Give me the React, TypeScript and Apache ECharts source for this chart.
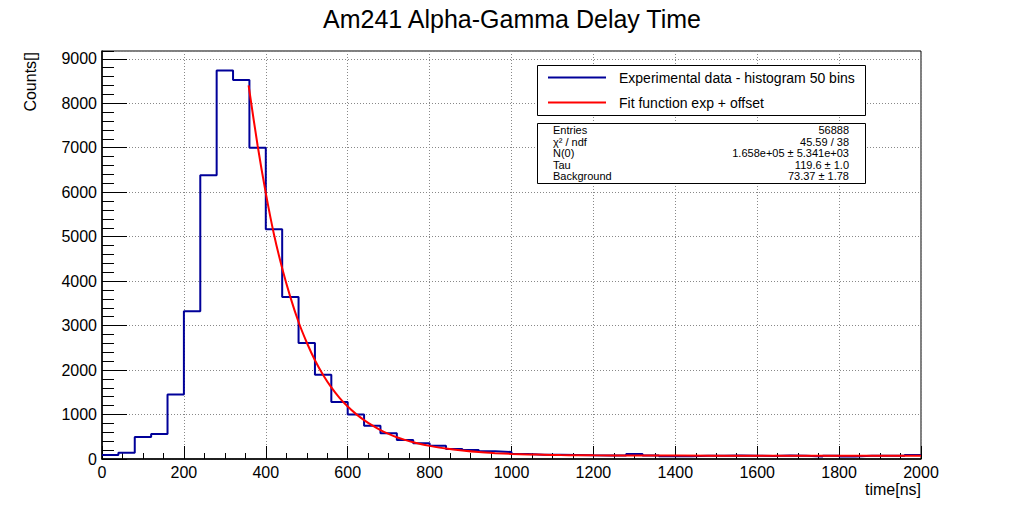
import React, { useEffect, useRef } from "react";
import * as echarts from "echarts";

// ---- data ----
const binLow = [
  0, 40, 80, 120, 160, 200, 240, 280, 320, 360, 400, 440, 480, 520, 560, 600, 640, 680, 720, 760,
  800, 840, 880, 920, 960, 1000, 1040, 1080, 1120, 1160, 1200, 1240, 1280, 1320, 1360, 1400, 1440,
  1480, 1520, 1560, 1600, 1640, 1680, 1720, 1760, 1800, 1840, 1880, 1920, 1960,
];
const binWidth = 40;
const counts = [
  90, 141, 494, 561, 1452, 3322, 6382, 8738, 8523, 6997, 5169, 3643, 2611, 1893, 1279, 1003, 748, 577,
  426, 352, 298, 224, 202, 172, 157, 110, 95, 98, 92, 85, 80, 78, 112, 80, 62, 60, 75, 72, 78, 74, 70,
  76, 73, 58, 74, 58, 72, 75, 72, 88,
];
const fitX = [
  358, 380, 400, 420, 440, 460, 480, 500, 520, 540, 560, 580, 600, 620, 640, 660, 680, 700, 720, 740,
  760, 780, 800, 840, 880, 920, 960, 1000, 1040, 1080, 1120, 1160, 1200, 1300, 1400, 1600, 1800, 2000,
];
const fitY = [
  8400, 7050, 5980, 5050, 4290, 3640, 3080, 2620, 2220, 1890, 1610, 1375, 1180, 1015, 875, 755, 650,
  565, 490, 430, 375, 330, 295, 235, 190, 155, 132, 115, 103, 95, 89, 85, 82, 78, 76, 74, 73.5, 73.4,
];
const statsLabels = ["Entries", "χ² / ndf", "N(0)", "Tau", "Background"];
const statsValues = ["56888", "45.59 / 38", "1.658e+05 ± 5.341e+03", "119.6 ± 1.0", "73.37 ± 1.78"];
const legendNames = ["Experimental data - histogram 50 bins", "Fit function exp + offset"];
const title = "Am241 Alpha-Gamma Delay Time";
const xName = "time[ns]";
const yName = "Counts[]";

const FONT = "'Liberation Sans', Arial, Helvetica, sans-serif";
const BLUE = "#000099";
const RED = "#ff0000";

export default function App() {
  const ref = useRef<HTMLDivElement>(null);
  useEffect(() => {
    document.body.style.margin = "0";
    if (!ref.current) return;
    const chart = echarts.init(ref.current, undefined, { renderer: "svg" });

    const histPts: number[][] = [];
    binLow.forEach((lo, i) => {
      histPts.push([lo, counts[i]]);
      histPts.push([lo + binWidth, counts[i]]);
    });
    const fitPts = fitX.map((x, i) => [x, fitY[i]]);
    const yMax = Math.max(...counts) * 1.05;

    const gridLeft = 102;
    const gridRight = 921;
    const gridTop = 51;
    const gridBottom = 459;

    const statsTop = 124;
    const rowH = 11.6;

    const option: any = {
      animation: false,
      backgroundColor: "#ffffff",
      textStyle: { fontFamily: FONT },
      title: {
        text: title,
        left: "center",
        top: 1,
        textStyle: { fontFamily: FONT, fontSize: 25, fontWeight: "normal", color: "#000" },
      },
      grid: {
        left: gridLeft,
        right: 1024 - gridRight,
        top: gridTop,
        bottom: 510 - gridBottom,
        show: true,
        borderColor: "#000",
        borderWidth: 1,
        backgroundColor: "transparent",
      },
      xAxis: {
        type: "value",
        min: 0,
        max: 2000,
        interval: 200,
        axisLine: { show: true, onZero: false, lineStyle: { color: "#000", width: 1.5 } },
        axisTick: { show: true, inside: true, length: 13, lineStyle: { color: "#000" } },
        minorTick: { show: true, splitNumber: 4, length: 6, lineStyle: { color: "#000" } },
        axisLabel: {
          color: "#000",
          fontSize: 16,
          fontFamily: FONT,
          margin: 5,
          formatter: (v: number) => String(v),
        },
        splitLine: { show: true, lineStyle: { color: "#888", type: [1, 2], width: 1 } },
      },
      yAxis: [
        {
          type: "value",
          min: 0,
          max: yMax,
          interval: 1000,
          axisLine: { show: true, onZero: false, lineStyle: { color: "#000", width: 1.5 } },
          axisTick: { show: true, inside: true, length: 25, lineStyle: { color: "#000" } },
          axisLabel: {
            color: "#000",
            fontSize: 16,
            fontFamily: FONT,
            margin: 5,
            showMaxLabel: false,
            formatter: (v: number) => (v % 1000 === 0 ? String(v) : ""),
          },
          splitLine: { show: true, lineStyle: { color: "#888", type: [1, 2], width: 1 } },
        },
        {
          type: "value",
          min: 0,
          max: yMax,
          interval: 200,
          position: "left",
          axisLine: { show: false },
          axisTick: { show: true, inside: true, length: 12, lineStyle: { color: "#000" } },
          axisLabel: { show: false },
          splitLine: { show: false },
        },
      ],
      series: [
        {
          name: legendNames[0],
          type: "line",
          data: histPts,
          showSymbol: false,
          symbol: "none",
          lineStyle: { color: BLUE, width: 2 },
          itemStyle: { color: BLUE },
          z: 3,
        },
        {
          name: legendNames[1],
          type: "line",
          data: fitPts,
          showSymbol: false,
          symbol: "none",
          smooth: 0.3,
          lineStyle: { color: RED, width: 2 },
          itemStyle: { color: RED },
          z: 4,
        },
      ],
      graphic: [
        {
          type: "text",
          x: 30,
          y: 52,
          rotation: Math.PI / 2,
          style: {
            text: yName,
            fontFamily: FONT,
            fontSize: 16,
            fill: "#000",
            align: "right",
            verticalAlign: "middle",
          },
        },
        {
          type: "text",
          x: gridRight,
          y: 489,
          style: {
            text: xName,
            fontFamily: FONT,
            fontSize: 16,
            fill: "#000",
            align: "right",
            verticalAlign: "middle",
          },
        },
        {
          type: "rect",
          shape: { x: 537.5, y: 65.5, width: 328, height: 50 },
          style: { fill: "#fff", stroke: "#000", lineWidth: 1 },
          z: 10,
        },
        {
          type: "line",
          shape: { x1: 548, y1: 77.5, x2: 606, y2: 77.5 },
          style: { stroke: BLUE, lineWidth: 2 },
          z: 11,
        },
        {
          type: "line",
          shape: { x1: 548, y1: 102.5, x2: 606, y2: 102.5 },
          style: { stroke: RED, lineWidth: 2 },
          z: 11,
        },
        {
          type: "text",
          x: 619,
          y: 77.5,
          style: { text: legendNames[0], fontFamily: FONT, fontSize: 14, fill: "#000", verticalAlign: "middle" },
          z: 11,
        },
        {
          type: "text",
          x: 619,
          y: 102.5,
          style: { text: legendNames[1], fontFamily: FONT, fontSize: 14, fill: "#000", verticalAlign: "middle" },
          z: 11,
        },
        {
          type: "rect",
          shape: { x: 537.5, y: 123.5, width: 328, height: 60 },
          style: { fill: "#fff", stroke: "#000", lineWidth: 1 },
          z: 10,
        },
        ...statsLabels.map((t, i) => ({
          type: "text",
          x: 553,
          y: statsTop + 6 + i * rowH,
          style: { text: t, fontFamily: FONT, fontSize: 11, fill: "#000", verticalAlign: "middle" },
          z: 11,
        })),
        ...statsValues.map((t, i) => ({
          type: "text",
          x: 849,
          y: statsTop + 6 + i * rowH,
          style: {
            text: t,
            fontFamily: FONT,
            fontSize: 11,
            fill: "#000",
            align: "right",
            verticalAlign: "middle",
          },
          z: 11,
        })),
      ],
    };
    chart.setOption(option);
    return () => chart.dispose();
  }, []);
  return (
    <div
      ref={ref}
      style={{ position: "absolute", left: 0, top: 0, width: 1024, height: 510, background: "#fff" }}
    />
  );
}
